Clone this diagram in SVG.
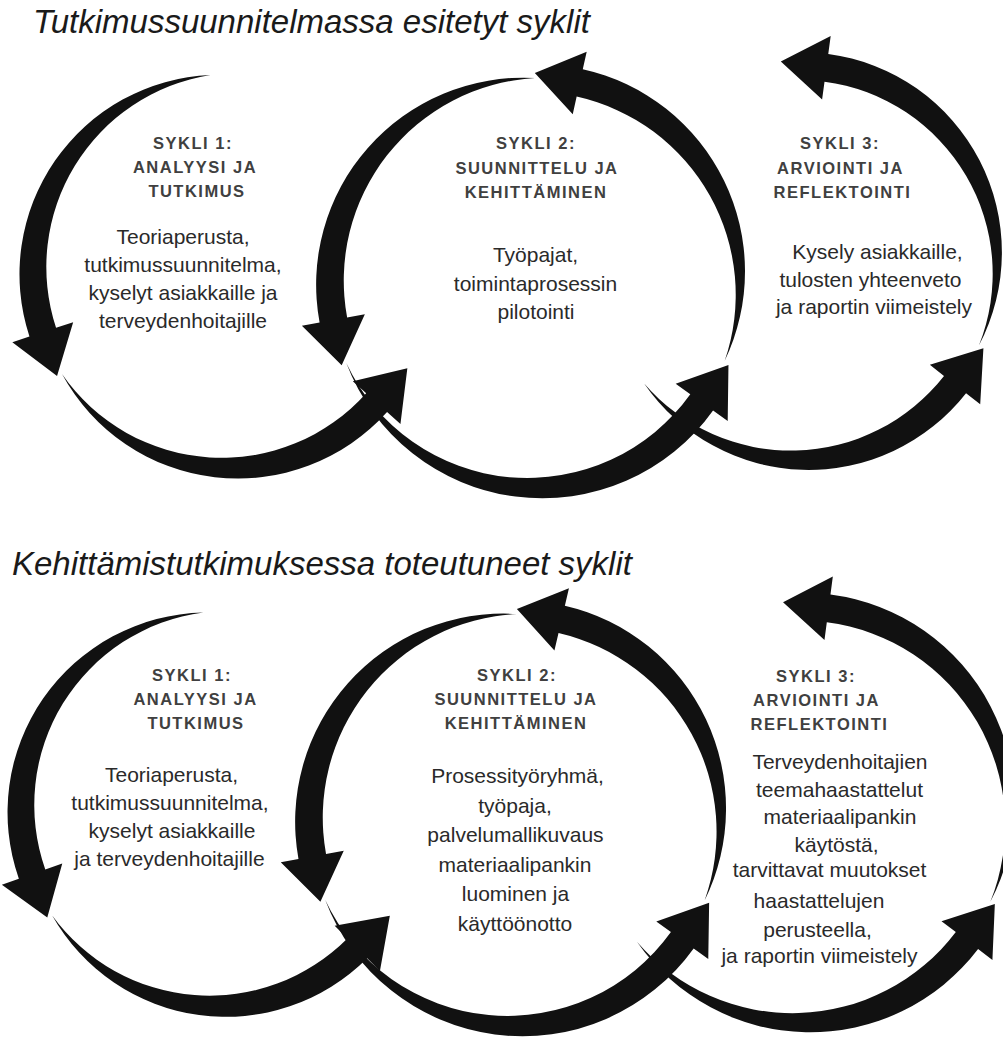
<svg xmlns="http://www.w3.org/2000/svg" width="1003" height="1039" viewBox="0 0 1003 1039">
<style>
.arc{fill:#111}
.title{font-family:"Liberation Sans",Arial,sans-serif;font-style:italic;font-size:33px;fill:#1a1a1a}
.head{font-family:"Liberation Sans",Arial,sans-serif;font-weight:bold;font-size:16.5px;letter-spacing:1.5px;fill:#404040;text-anchor:middle}
.body{font-family:"Liberation Sans",Arial,sans-serif;font-size:21px;fill:#2a2a2a;text-anchor:middle}
</style>
<rect width="1003" height="1039" fill="#fff"/>

<text class="title" x="33" y="33">Tutkimussuunnitelmassa esitetyt syklit</text>
<text class="title" x="12" y="575">Kehittämistutkimuksessa toteutuneet syklit</text>

<!-- tapered circular arrows: each path is drawn round its cycle centre, base of the head on the local x axis -->
<g id="connectors" class="arc">
  <!-- planned cycles -->
  <path transform="translate(800 263) rotate(-82.3)" d="M-57.6,188.4 A200.2,200.2 0 0 0 211,0 L229,0 L197,-46 L165,0 L183,0 A193.8,193.8 0 0 1 -57.6,188.4Z"/>
  <path transform="translate(800 263) rotate(38.1)" d="M-48.3,191 A199.8,199.8 0 0 0 211,0 L229,0 L197,-46 L165,0 L183,0 A194.2,194.2 0 0 1 -48.3,191Z"/>
  <path transform="translate(535 283) rotate(-77.4)" d="M-34.5,202.1 A207,207 0 0 0 219,0 L237,0 L205,-46 L173,0 L191,0 A203,203 0 0 1 -34.5,202.1Z"/>
  <path transform="translate(535 283) rotate(169.6)" d="M-37,201.6 A207.1,207.1 0 0 0 219,0 L237,0 L205,-46 L173,0 L191,0 A202.9,202.9 0 0 1 -37,201.6Z"/>
  <path transform="translate(535 283) rotate(35.6)" d="M-106.8,175 A209.8,209.8 0 0 0 219,0 L237,0 L205,-46 L173,0 L191,0 A200.2,200.2 0 0 1 -106.8,175Z"/>
  <path transform="translate(230 271) rotate(161.9)" d="M-42.3,192.4 A199.5,199.5 0 0 0 211,0 L229,0 L197,-46 L165,0 L183,0 A194.5,194.5 0 0 1 -42.3,192.4Z"/>
  <path transform="translate(230 271) rotate(41.9)" d="M-56.3,188.8 A200.1,200.1 0 0 0 211,0 L229,0 L197,-46 L165,0 L183,0 A193.9,193.9 0 0 1 -56.3,188.8Z"/>
  <!-- realised cycles -->
  <path transform="translate(801.5 814.5) rotate(-82.5)" d="M-61.9,198.6 A211.2,211.2 0 0 0 222,0 L240,0 L208,-46 L176,0 L194,0 A204.8,204.8 0 0 1 -61.9,198.6Z"/>
  <path transform="translate(801.5 814.5) rotate(37.3)" d="M-53.5,201 A210.9,210.9 0 0 0 222,0 L240,0 L208,-46 L176,0 L194,0 A205.1,205.1 0 0 1 -53.5,201Z"/>
  <path transform="translate(515 820) rotate(-76.9)" d="M-35.4,202.9 A208.1,208.1 0 0 0 220,0 L238,0 L206,-46 L174,0 L192,0 A203.9,203.9 0 0 1 -35.4,202.9Z"/>
  <path transform="translate(515 820) rotate(169.8)" d="M-38.3,202.4 A208.2,208.2 0 0 0 220,0 L238,0 L206,-46 L174,0 L192,0 A203.8,203.8 0 0 1 -38.3,202.4Z"/>
  <path transform="translate(515 820) rotate(35.7)" d="M-107.6,175.6 A210.8,210.8 0 0 0 220,0 L238,0 L206,-46 L174,0 L192,0 A201.2,201.2 0 0 1 -107.6,175.6Z"/>
  <path transform="translate(218 809) rotate(160.7)" d="M-51,190.3 A199.9,199.9 0 0 0 211,0 L229,0 L197,-46 L165,0 L183,0 A194.1,194.1 0 0 1 -51,190.3Z"/>
  <path transform="translate(218 809) rotate(45)" d="M-42,192.5 A199.5,199.5 0 0 0 211,0 L229,0 L197,-46 L165,0 L183,0 A194.5,194.5 0 0 1 -42,192.5Z"/>
</g>

<g id="plan-cycle-1">
  <text class="head" x="193" y="148.5">SYKLI 1:</text>
  <text class="head" x="195" y="172.5">ANALYYSI JA</text>
  <text class="head" x="197" y="196.5">TUTKIMUS</text>
  <text class="body" x="183" y="244">Teoriaperusta,</text>
  <text class="body" x="183" y="272">tutkimussuunnitelma,</text>
  <text class="body" x="183" y="300">kyselyt asiakkaille ja</text>
  <text class="body" x="183" y="328">terveydenhoitajille</text>
</g>
<g id="plan-cycle-2">
  <text class="head" x="536" y="149">SYKLI 2:</text>
  <text class="head" x="537" y="173.5">SUUNNITTELU JA</text>
  <text class="head" x="536" y="197.5">KEHITTÄMINEN</text>
  <text class="body" x="535.5" y="262">Työpajat,</text>
  <text class="body" x="535.5" y="290.5">toimintaprosessin</text>
  <text class="body" x="536" y="319">pilotointi</text>
</g>
<g id="plan-cycle-3">
  <text class="head" x="840" y="149">SYKLI 3:</text>
  <text class="head" x="840.5" y="173.5">ARVIOINTI JA</text>
  <text class="head" x="842.5" y="197.5">REFLEKTOINTI</text>
  <text class="body" x="877.5" y="259">Kysely asiakkaille,</text>
  <text class="body" x="870.5" y="287">tulosten yhteenveto</text>
  <text class="body" x="874" y="314">ja raportin viimeistely</text>
</g>

<g id="real-cycle-1">
  <text class="head" x="192" y="680.5">SYKLI 1:</text>
  <text class="head" x="195.5" y="704.5">ANALYYSI JA</text>
  <text class="head" x="196" y="728.5">TUTKIMUS</text>
  <text class="body" x="171.5" y="782">Teoriaperusta,</text>
  <text class="body" x="170" y="810">tutkimussuunnitelma,</text>
  <text class="body" x="172" y="838">kyselyt asiakkaille</text>
  <text class="body" x="169.5" y="866">ja terveydenhoitajille</text>
</g>
<g id="real-cycle-2">
  <text class="head" x="517" y="681">SYKLI 2:</text>
  <text class="head" x="516" y="705">SUUNNITTELU JA</text>
  <text class="head" x="516" y="729">KEHITTÄMINEN</text>
  <text class="body" x="517.5" y="783">Prosessityöryhmä,</text>
  <text class="body" x="515" y="812.5">työpaja,</text>
  <text class="body" x="515.5" y="842">palvelumallikuvaus</text>
  <text class="body" x="515" y="871.5">materiaalipankin</text>
  <text class="body" x="515.5" y="901">luominen ja</text>
  <text class="body" x="515" y="930.5">käyttöönotto</text>
</g>
<g id="real-cycle-3">
  <text class="head" x="816" y="681.5">SYKLI 3:</text>
  <text class="head" x="816.5" y="705.5">ARVIOINTI JA</text>
  <text class="head" x="819.5" y="729.5">REFLEKTOINTI</text>
  <text class="body" x="840" y="769">Terveydenhoitajien</text>
  <text class="body" x="839.5" y="797">teemahaastattelut</text>
  <text class="body" x="840" y="824">materiaalipankin</text>
  <text class="body" x="836.5" y="852">käytöstä,</text>
  <text class="body" x="829.5" y="877">tarvittavat muutokset</text>
  <text class="body" x="819" y="908">haastattelujen</text>
  <text class="body" x="817.5" y="937">perusteella,</text>
  <text class="body" x="819.5" y="963">ja raportin viimeistely</text>
</g>
</svg>
